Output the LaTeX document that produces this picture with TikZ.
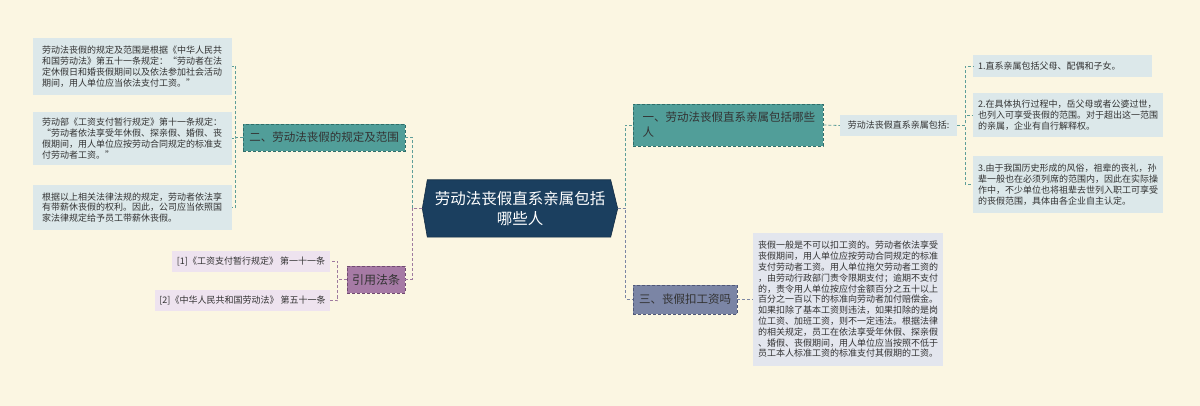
\documentclass[tikz,border=0pt]{standalone}
\usepackage{fontspec}
\newfontfamily\cjk{Noto Sans CJK SC}
\usetikzlibrary{calc}
\definecolor{bgc}{HTML}{FBF6E2}
\definecolor{leafc}{HTML}{DCE8EA}
\definecolor{leafd}{HTML}{E3E6EE}
\definecolor{citc}{HTML}{EEE3EF}
\definecolor{tealc}{HTML}{519E99}
\definecolor{teald}{HTML}{2F6E6A}
\definecolor{purc}{HTML}{A67AA5}
\definecolor{purd}{HTML}{714A71}
\definecolor{slatec}{HTML}{7B85A5}
\definecolor{slated}{HTML}{4F5878}
\definecolor{navyc}{HTML}{1B3F5F}
\definecolor{txtc}{HTML}{333333}
\definecolor{tline}{HTML}{5E9E99}
\definecolor{pline}{HTML}{9F7B9F}
\definecolor{sline}{HTML}{7C86A4}
\begin{document}
\begin{tikzpicture}[x=1pt,y=-1pt,
  conn/.style={line width=0.8pt, dash pattern=on 3pt off 2pt},
  leaf/.style={fill=#1, text=txtc, font=\cjk\fontsize{9}{10.8}\selectfont, align=left, inner ysep=0pt, anchor=center},
  leafL/.style={leaf=leafc, text width=181pt, inner xsep=9pt},
  leafR/.style={leaf=leafc, text width=180pt, inner xsep=5pt},
  cit/.style={fill=citc, text=txtc, font=\cjk\fontsize{9}{10.8}\selectfont, inner sep=0pt, anchor=center},
  branch/.style={fill=#1, text=txtc, font=\cjk\fontsize{11.5}{15}\selectfont, inner sep=0pt, anchor=center, line width=0.6pt, dash pattern=on 3pt off 2pt}
]
\fill[bgc] (0,0) rectangle (1200,406);
\useasboundingbox (0,0) rectangle (1200,406);

% centre
\node[minimum width=195pt, minimum height=57pt, inner sep=0pt] (c) at (520,208.5) {};
\filldraw[fill=navyc, draw=navyc!70!black, line width=0.6pt]
  (c.west) -- ($(c.north west)+(5,0)$) -- ($(c.north east)+(-7,0)$) -- (c.east)
  -- ($(c.south east)+(-7,0)$) -- ($(c.south west)+(5,0)$) -- cycle;
\node[text=white, font=\cjk\fontsize{15.5}{20}\selectfont, align=center] (ct) at (c) {劳动法丧假直系亲属包括\\哪些人};

% left branch 二
\node[branch=tealc, draw=teald, minimum width=162pt, minimum height=27pt] (b2) at (324,137.5) {二、劳动法丧假的规定及范围};
\node[leafL, minimum height=57pt] (l1) at (132.5,66.5) {劳动法丧假的规定及范围是根据《中华人民共\\和国劳动法》第五十一条规定：“劳动者在法\\定休假日和婚丧假期间以及依法参加社会活动\\期间，用人单位应当依法支付工资。”};
\node[leafL, minimum height=53pt] (l2) at (132.5,138.5) {劳动部《工资支付暂行规定》第十一条规定：\\“劳动者依法享受年休假、探亲假、婚假、丧\\假期间，用人单位应按劳动合同规定的标准支\\付劳动者工资。”};
\node[leafL, minimum height=45pt] (l3) at (132.5,207.5) {根据以上相关法律法规的规定，劳动者依法享\\有带薪休丧假的权利。因此，公司应当依照国\\家法律规定给予员工带薪休丧假。};

% left branch 引用法条
\node[branch=purc, draw=purd, minimum width=58pt, minimum height=27pt, font=\cjk\fontsize{12}{15}\selectfont] (b4) at (376,279.5) {引用法条};
\node[cit, minimum width=158pt, minimum height=21pt] (k1) at (251,261.5) {[1]《工资支付暂行规定》 第一十一条};
\node[cit, minimum width=175pt, minimum height=21pt] (k2) at (242.5,300.5) {[2]《中华人民共和国劳动法》 第五十一条};

% right branch 一
\node[branch=tealc, draw=teald, minimum width=190pt, minimum height=42pt, text width=171pt, inner xsep=9.5pt, align=left] (b1) at (728,125) {一、劳动法丧假直系亲属包括哪些\\人};
\node[cit, fill=leafc, minimum width=117pt, minimum height=21pt] (s1) at (898.5,125.5) {劳动法丧假直系亲属包括:};
\node[leaf=leafc, text width=169pt, inner xsep=5pt, minimum height=22pt] (r1) at (1062.5,66) {1.直系亲属包括父母、配偶和子女。};
\node[leafR, minimum height=44pt] (r2) at (1068,115) {2.在具体执行过程中，岳父母或者公婆过世，\\也列入可享受丧假的范围。对于超出这一范围\\的亲属，企业有自行解释权。};
\node[leafR, minimum height=57pt] (r3) at (1068,184.5) {3.由于我国历史形成的风俗，祖辈的丧礼，孙\\辈一般也在必须列席的范围内，因此在实际操\\作中，不少单位也将祖辈去世列入职工可享受\\的丧假范围，具体由各企业自主认定。};

% right branch 三
\node[branch=slatec, draw=slated, minimum width=104pt, minimum height=29pt] (b3) at (685,299.5) {三、丧假扣工资吗};
\node[leaf=leafd, text width=180pt, inner xsep=5pt, minimum height=133pt] (l4) at (848,299.5) {丧假一般是不可以扣工资的。劳动者依法享受\\丧假期间，用人单位应按劳动合同规定的标准\\支付劳动者工资。用人单位拖欠劳动者工资的\\，由劳动行政部门责令限期支付；逾期不支付\\的，责令用人单位按应付金额百分之五十以上\\百分之一百以下的标准向劳动者加付赔偿金。\\如果扣除了基本工资则违法，如果扣除的是岗\\位工资、加班工资，则不一定违法。根据法律\\的相关规定，员工在依法享受年休假、探亲假\\、婚假、丧假期间，用人单位应当按照不低于\\员工本人标准工资的标准支付其假期的工资。};

% connectors
\draw[conn, tline] (c.west) -- ++(-10,0) |- (b2.east);
\draw[conn, pline] (c.west) -- ++(-10,0) |- (b4.east);
\draw[conn, tline] (b2.west) -- ++(-7,0) |- (l1.east);
\draw[conn, tline] (b2.west) -- ++(-7,0) |- (l2.east);
\draw[conn, tline] (b2.west) -- ++(-7,0) |- (l3.east);
\draw[conn, pline] (b4.west) -- ++(-9,0) |- (k1.east);
\draw[conn, pline] (b4.west) -- ++(-9,0) |- (k2.east);
\draw[conn, tline] (c.east) -- ++(8,0) |- (b1.west);
\draw[conn, sline] (c.east) -- ++(8,0) |- (b3.west);
\draw[conn, tline] (b1.east) -- (s1.west);
\draw[conn, tline] (s1.east) -- ++(8,0) |- (r1.west);
\draw[conn, tline] (s1.east) -- ++(8,0) |- (r2.west);
\draw[conn, tline] (s1.east) -- ++(8,0) |- (r3.west);
\draw[conn, sline] (b3.east) -- (l4.west);
\end{tikzpicture}
\end{document}
